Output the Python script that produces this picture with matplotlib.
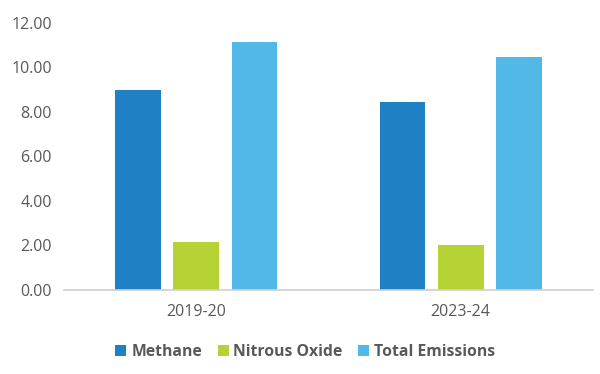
import matplotlib
matplotlib.use("Agg")
import matplotlib.pyplot as plt
import numpy as np

# data
years = ["2019-20", "2023-24"]
methane = [9.0, 8.45]
nitrous_oxide = [2.15, 2.02]
total_emissions = [11.15, 10.45]

series_names = ["Methane", "Nitrous Oxide", "Total Emissions"]
colors = ["#1F80C4", "#B5D334", "#52B8E8"]


def main():
    plt.rcParams['font.family'] = ['Open Sans', 'DejaVu Sans']
    grey = "#595959"

    fig = plt.figure(figsize=(6, 3.74), dpi=100)
    ax = fig.add_axes([0.107, 0.2246, 0.881, 0.7147])

    x = np.arange(len(years))
    width = 0.174
    step = 0.22
    values = [methane, nitrous_oxide, total_emissions]
    for i, (vals, name, c) in enumerate(zip(values, series_names, colors)):
        ax.bar(x + (i - 1) * step, vals, width, color=c, label=name)

    ax.set_xlim(-0.5, 1.5)
    ax.set_ylim(0, 12)
    ax.set_yticks(np.arange(0, 12.1, 2))
    ax.set_yticklabels(["%.2f" % v for v in np.arange(0, 12.1, 2)])
    ax.set_xticks(x)
    ax.set_xticklabels(years)

    for s in ["top", "right", "left"]:
        ax.spines[s].set_visible(False)
    ax.spines["bottom"].set_color("#D0D0D0")
    ax.spines["bottom"].set_linewidth(1.2)
    ax.tick_params(axis="y", length=0, pad=9, labelsize=11.5, labelcolor=grey)
    ax.tick_params(axis="x", length=0, pad=10, labelsize=11.5, labelcolor=grey)

    leg = ax.legend(loc="upper center", bbox_to_anchor=(0.456, -0.15), ncol=3,
                    frameon=False, handlelength=0.7, handleheight=0.7,
                    handletextpad=0.3, columnspacing=1.0,
                    prop={"weight": "bold", "size": 11.3})
    for t in leg.get_texts():
        t.set_color(grey)

    fig.savefig("out.png", dpi=100)


if __name__ == "__main__":
    main()
